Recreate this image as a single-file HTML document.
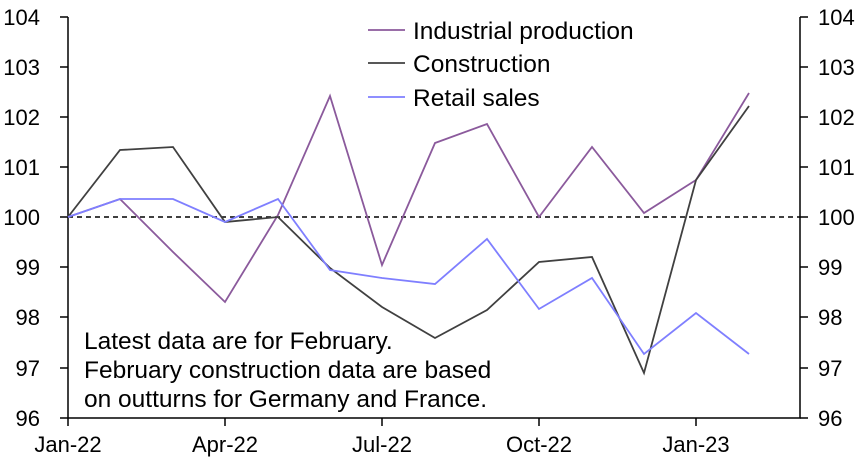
<!DOCTYPE html>
<html><head><style>
body{margin:0;background:#fff}
text{font-family:"Liberation Sans",sans-serif;fill:#000}
</style></head><body>
<svg width="864" height="462" xmlns="http://www.w3.org/2000/svg">
<g font-size="22">
<text x="40" y="25" text-anchor="end">104</text>
<text x="40" y="75" text-anchor="end">103</text>
<text x="40" y="125" text-anchor="end">102</text>
<text x="40" y="175" text-anchor="end">101</text>
<text x="40" y="225" text-anchor="end">100</text>
<text x="40" y="275" text-anchor="end">99</text>
<text x="40" y="325" text-anchor="end">98</text>
<text x="40" y="376" text-anchor="end">97</text>
<text x="40" y="426" text-anchor="end">96</text>
<text x="818" y="25">104</text>
<text x="818" y="75">103</text>
<text x="818" y="125">102</text>
<text x="818" y="175">101</text>
<text x="818" y="225">100</text>
<text x="818" y="275">99</text>
<text x="818" y="325">98</text>
<text x="818" y="376">97</text>
<text x="818" y="426">96</text>
<text x="68" y="452" text-anchor="middle">Jan-22</text>
<text x="225" y="452" text-anchor="middle">Apr-22</text>
<text x="382" y="452" text-anchor="middle">Jul-22</text>
<text x="539" y="452" text-anchor="middle">Oct-22</text>
<text x="696" y="452" text-anchor="middle">Jan-23</text>
</g>
<g stroke="#000" stroke-width="1.5" fill="none">
<path d="M68,17V418H800V17"/>
<path d="M60,17h8M60,67h8M60,117h8M60,167h8M60,217h8M60,267h8M60,317h8M60,368h8M60,418h8"/>
<path d="M800,17h8M800,67h8M800,117h8M800,167h8M800,217h8M800,267h8M800,317h8M800,368h8M800,418h8"/>
<path d="M68,418v8M225,418v8M382,418v8M539,418v8M696,418v8"/>
</g>
<line x1="68" y1="217" x2="800" y2="217" stroke="#000" stroke-width="1.5" stroke-dasharray="5,4"/>
<g fill="none" stroke-width="1.8">
<polyline stroke="#8B5A9C" points="68,217 120,199 173,252 225,302 278,215 330,96 382,265 435,143 487,124 539,217 592,147 644,213 696,180 749,93"/>
<polyline stroke="#404040" points="68,217 120,150 173,147 225,222 278,217 330,268 382,307 435,338 487,310 539,262 592,257 644,373 696,180 749,106"/>
<polyline stroke="#7F7FFF" points="68,217 120,199 173,199 225,222 278,199 330,270 382,278 435,284 487,239 539,309 592,278 644,354 696,313 749,354"/>
</g>
<g font-size="24.5">
<line x1="368" y1="30" x2="405" y2="30" stroke="#8B5A9C" stroke-width="1.8"/>
<text x="413" y="39">Industrial production</text>
<line x1="368" y1="63" x2="405" y2="63" stroke="#404040" stroke-width="1.8"/>
<text x="413" y="72">Construction</text>
<line x1="368" y1="97" x2="405" y2="97" stroke="#7F7FFF" stroke-width="1.8"/>
<text x="413" y="106">Retail sales</text>
<text x="84" y="349">Latest data are for February.</text>
<text x="84" y="378">February construction data are based</text>
<text x="84" y="407">on outturns for Germany and France.</text>
</g>
</svg>
</body></html>
